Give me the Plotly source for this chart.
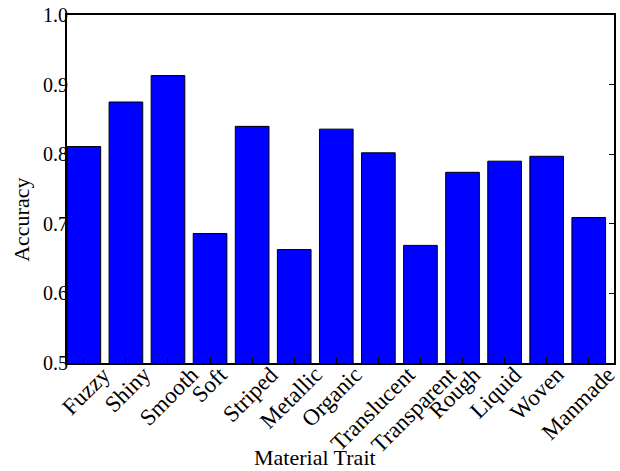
import plotly.graph_objects as go

# Per-trait classification accuracy
traits = ["Fuzzy", "Shiny", "Smooth", "Soft", "Striped", "Metallic", "Organic",
          "Translucent", "Transparent", "Rough", "Liquid", "Woven", "Manmade"]
accuracy = [0.811, 0.875, 0.913, 0.686, 0.840, 0.663, 0.836,
            0.802, 0.669, 0.774, 0.790, 0.797, 0.709]
y_ticks = [0.5, 0.6, 0.7, 0.8, 0.9, 1.0]
y_tick_text = ["0.5", "0.6", "0.7", "0.8", "0.9", "1.0"]

FONT = "Liberation Serif"
TICK_FS = 20
CAT_FS = 23
TITLE_FS = 22

# plot area in pixels
L, R, T, B = 67, 4, 11, 108
W, H = 620, 471
PW, PH = W - L - R, H - T - B

positions = list(range(len(traits)))

fig = go.Figure()
fig.add_trace(go.Bar(
    x=positions, y=accuracy, width=0.8,
    marker=dict(color="#0000ff", line=dict(color="black", width=1)),
    showlegend=False,
))
# invisible companion trace so the right-hand axis gets drawn
fig.add_trace(go.Scatter(x=[positions[0]], y=[y_ticks[0]], yaxis="y2",
                         mode="markers", marker=dict(opacity=0),
                         showlegend=False, hoverinfo="skip"))

# rotated category labels under each bar
for i, name in enumerate(traits):
    fig.add_annotation(
        x=i, y=0, xref="x", yref="paper", text=name, showarrow=False,
        textangle=-45, xanchor="center", yanchor="top", yshift=4,
        xshift=3 - 1.15 * i,
        font=dict(family=FONT, size=CAT_FS, color="black"),
    )

# axis titles
fig.add_annotation(x=(316 - L) / PW, y=-(459 - (H - B)) / PH, xref="paper", yref="paper",
                   text="Material Trait", showarrow=False, xanchor="center", yanchor="middle",
                   font=dict(family=FONT, size=TITLE_FS, color="black"))
fig.add_annotation(x=-(L - 21) / PW, y=((H - B) - 218) / PH, xref="paper", yref="paper",
                   text="Accuracy", showarrow=False, textangle=-90,
                   xanchor="center", yanchor="middle",
                   font=dict(family=FONT, size=TITLE_FS, color="black"))

fig.update_layout(
    width=W, height=H,
    margin=dict(l=L, r=R, t=T, b=B),
    paper_bgcolor="white", plot_bgcolor="white",
    xaxis=dict(
        range=[-0.4, 12.6], tickmode="array", tickvals=positions,
        showticklabels=False, ticks="inside", ticklen=5, tickcolor="black",
        showline=True, linecolor="black", linewidth=2, mirror=True,
        showgrid=False, zeroline=False,
    ),
    yaxis=dict(
        range=[0.5, 1.0], tickmode="array", tickvals=y_ticks, ticktext=y_tick_text,
        ticks="", showline=True, linecolor="black", linewidth=2, mirror=True,
        showgrid=False, zeroline=False, ticklabelstandoff=-7,
        tickfont=dict(family=FONT, size=TICK_FS, color="black"),
    ),
    yaxis2=dict(
        overlaying="y", side="right", range=[0.5, 1.0], tickmode="array",
        tickvals=y_ticks, showticklabels=False, ticks="inside", ticklen=5,
        tickcolor="black", showgrid=False, zeroline=False, showline=False,
    ),
)

fig.write_html("out.html")
